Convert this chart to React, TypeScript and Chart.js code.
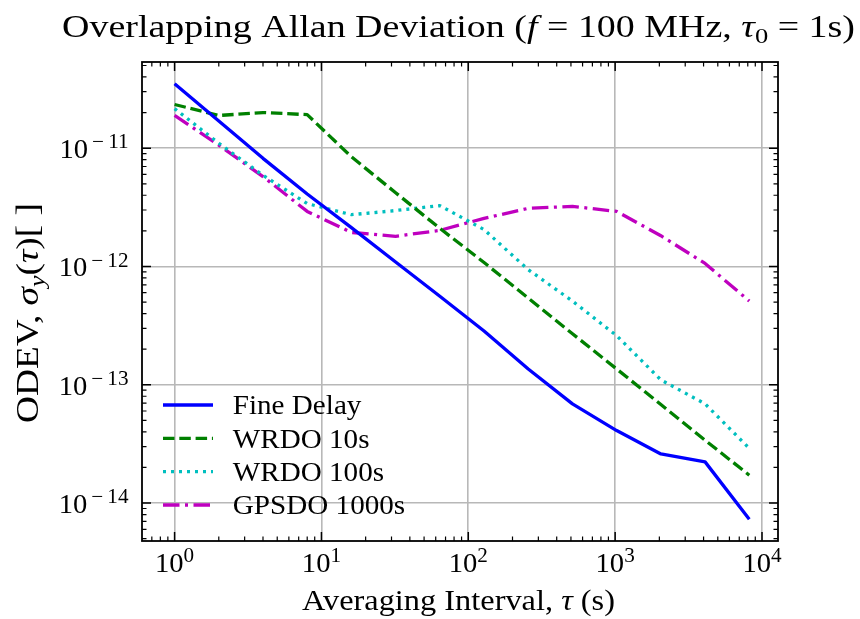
import React, { useEffect, useRef } from 'react';
import { Chart, registerables } from 'chart.js';

Chart.register(...registerables);

// ---- data ----
const TAU = [1, 2, 4, 8, 16, 32, 64, 128, 256, 512, 1024, 2048, 4096, 8192];
const FINE_DELAY = [3.5e-11, 1.7e-11, 8.2e-12, 4.1e-12, 2.13e-12, 1.09e-12, 5.6e-13, 2.85e-13, 1.36e-13, 6.9e-14, 4.1e-14, 2.6e-14, 2.23e-14, 7.3e-15];
const WRDO_10S = [2.34e-11, 1.89e-11, 2.0e-11, 1.92e-11, 8.45e-12, 4.2e-12, 2.1e-12, 1.08e-12, 5.4e-13, 2.7e-13, 1.36e-13, 6.8e-14, 3.4e-14, 1.72e-14];
const WRDO_100S = [2.16e-11, 1.1e-11, 5.9e-12, 3.4e-12, 2.74e-12, 2.97e-12, 3.27e-12, 2.05e-12, 9.4e-13, 5.1e-13, 2.6e-13, 1.1e-13, 6.9e-14, 2.9e-14];
const GPSDO_1000S = [1.89e-11, 1.06e-11, 5.75e-12, 2.92e-12, 1.94e-12, 1.8e-12, 2.02e-12, 2.55e-12, 3.1e-12, 3.22e-12, 2.92e-12, 1.82e-12, 1.06e-12, 5.1e-13];
const SERIES_NAMES = ['Fine Delay', 'WRDO 10s', 'WRDO 100s', 'GPSDO 1000s'];

const X_DECADES = [-1, 0, 1, 2, 3, 4];
const Y_DECADES = [-15, -14, -13, -12, -11];
const X_LABEL_EXPONENTS = [0, 1, 2, 3, 4];
const Y_LABEL_EXPONENTS = [-14, -13, -12, -11];
const X_MIN = 0.637;
const X_MAX = 12850;
const Y_MIN = 4.78e-15;
const Y_MAX = 5.35e-11;

const buildTicks = (decades: number[], min: number, max: number) => {
  const out: number[] = [];
  decades.forEach((d) => {
    for (let m = 1; m <= 9; m++) {
      const v = m * Math.pow(10, d);
      if (v >= min * 0.9999 && v <= max * 1.0001) out.push(v);
    }
  });
  return out;
};
const X_TICKS = buildTicks(X_DECADES, X_MIN, X_MAX);
const Y_TICKS = buildTicks(Y_DECADES, Y_MIN, Y_MAX);

const isDecade = (v?: number) => {
  if (!v || v <= 0) return false;
  const l = Math.log10(v);
  return Math.abs(l - Math.round(l)) < 1e-9;
};

// ---- text helpers ----
type Seg = { t: string; it?: boolean; sub?: boolean; sup?: boolean; adv?: number; scale?: number };
const FONT = '"Liberation Serif", "Times New Roman", serif';
const segSize = (s: Seg, size: number) => (s.sub || s.sup ? size * (s.scale ?? 0.7) : size);
const fontFor = (s: Seg, size: number) => `${s.it ? 'italic ' : ''}${segSize(s, size)}px ${FONT}`;

function drawRich(
  ctx: CanvasRenderingContext2D,
  segs: Seg[],
  x: number,
  y: number,
  size: number,
  align: 'left' | 'center' | 'right',
  opts: { target?: number; sx?: number }
) {
  const widths = segs.map((s) => {
    ctx.font = fontFor(s, size);
    const w = ctx.measureText(s.t).width;
    return s.adv ? Math.max(w, s.adv * segSize(s, size)) : w;
  });
  const W = widths.reduce((a, b) => a + b, 0);
  const sx = opts.target ? opts.target / W : opts.sx ?? 1;
  const total = W * sx;
  const x0 = align === 'left' ? x : align === 'center' ? x - total / 2 : x - total;
  ctx.save();
  ctx.translate(x0, y);
  ctx.scale(sx, 1);
  ctx.textAlign = 'left';
  ctx.textBaseline = 'alphabetic';
  ctx.fillStyle = '#000';
  let cx = 0;
  segs.forEach((s, i) => {
    ctx.font = fontFor(s, size);
    const w = ctx.measureText(s.t).width;
    const dy = s.sub ? size * 0.2 : s.sup ? -size * 0.36 : 0;
    ctx.fillText(s.t, cx + (widths[i] - w) / 2, dy);
    cx += widths[i];
  });
  ctx.restore();
}

const expSegs = (n: number): Seg[] => {
  if (n < 0)
    return [
      { t: '10' },
      { t: '\u2212', sup: true, adv: 0.95, scale: 0.74 },
      { t: String(-n), sup: true, scale: 0.74 },
    ];
  return [{ t: '10' }, { t: String(n), sup: true, scale: 0.74 }];
};

const LW = 3.3;

const decorPlugin = {
  id: 'decor',
  afterDraw(chart: any) {
    const ctx: CanvasRenderingContext2D = chart.ctx;
    const a = chart.chartArea;
    const xs = chart.scales.x;
    const ys = chart.scales.y;

    // frame
    ctx.save();
    ctx.strokeStyle = '#000';
    ctx.lineWidth = 1.8;
    ctx.strokeRect(a.left, a.top, a.right - a.left, a.bottom - a.top);

    // inward ticks on all sides
    xs.ticks.forEach((t: any) => {
      const px = xs.getPixelForValue(t.value);
      if (px < a.left - 0.5 || px > a.right + 0.5) return;
      const maj = isDecade(t.value);
      const len = maj ? 9 : 4.5;
      ctx.lineWidth = maj ? 1.5 : 1.2;
      ctx.beginPath();
      ctx.moveTo(px, a.bottom);
      ctx.lineTo(px, a.bottom - len);
      ctx.moveTo(px, a.top);
      ctx.lineTo(px, a.top + len);
      ctx.stroke();
    });
    ys.ticks.forEach((t: any) => {
      const py = ys.getPixelForValue(t.value);
      if (py < a.top - 0.5 || py > a.bottom + 0.5) return;
      const maj = isDecade(t.value);
      const len = maj ? 9 : 4.5;
      ctx.lineWidth = maj ? 1.5 : 1.2;
      ctx.beginPath();
      ctx.moveTo(a.left, py);
      ctx.lineTo(a.left + len, py);
      ctx.moveTo(a.right, py);
      ctx.lineTo(a.right - len, py);
      ctx.stroke();
    });
    ctx.restore();

    // tick labels
    X_LABEL_EXPONENTS.forEach((n) => {
      const px = xs.getPixelForValue(Math.pow(10, n));
      drawRich(ctx, expSegs(n), px, a.bottom + 31, 27.5, 'center', { sx: 1.04 });
    });
    Y_LABEL_EXPONENTS.forEach((n) => {
      const py = ys.getPixelForValue(Math.pow(10, n));
      drawRich(ctx, expSegs(n), a.left - 13.5, py + 10, 27.5, 'right', { sx: 1.04 });
    });

    // title
    drawRich(
      ctx,
      [
        { t: 'Overlapping Allan Deviation (' },
        { t: 'f', it: true },
        { t: ' = 100 MHz, ' },
        { t: '\u03c4', it: true },
        { t: '0', sub: true },
        { t: ' = 1s)' },
      ],
      (a.left + a.right) / 2 - 1.5,
      37,
      31,
      'center',
      { target: 793 }
    );

    // x title
    drawRich(
      ctx,
      [{ t: 'Averaging Interval, ' }, { t: '\u03c4', it: true }, { t: ' (s)' }],
      (a.left + a.right) / 2 - 1.5,
      610,
      29,
      'center',
      { target: 313 }
    );

    // y title (rotated)
    ctx.save();
    ctx.translate(38, 313);
    ctx.rotate(-Math.PI / 2);
    drawRich(
      ctx,
      [
        { t: 'ODEV, ' },
        { t: '\u03c3', it: true },
        { t: 'y', it: true, sub: true },
        { t: '(' },
        { t: '\u03c4', it: true },
        { t: ')[ ]' },
      ],
      0,
      0,
      31,
      'center',
      { target: 220 }
    );
    ctx.restore();

    // legend
    const rows = [405, 438.3, 471.7, 505];
    chart.data.datasets.forEach((ds: any, i: number) => {
      const y = rows[i];
      ctx.save();
      ctx.strokeStyle = ds.borderColor;
      ctx.lineWidth = LW;
      ctx.setLineDash(ds.borderDash || []);
      ctx.lineCap = 'butt';
      ctx.beginPath();
      ctx.moveTo(163, y);
      ctx.lineTo(213, y);
      ctx.stroke();
      ctx.restore();
      drawRich(ctx, [{ t: ds.label }], 232.7, y + 9.3, 27.5, 'left', { sx: 1.06 });
    });
  },
};

export default function App() {
  const ref = useRef<HTMLCanvasElement | null>(null);

  useEffect(() => {
    if (!ref.current) return;
    const mk = (vals: number[]) => TAU.map((t, i) => ({ x: t, y: vals[i] }));
    const GRID = '#b8b8b8';
    const gridColor = (c: any) => (isDecade(c.tick?.value) ? GRID : 'rgba(0,0,0,0)');
    const chart = new Chart(ref.current, {
      type: 'line',
      data: {
        datasets: [
          { label: SERIES_NAMES[0], data: mk(FINE_DELAY), borderColor: '#0000ff', borderDash: [] },
          { label: SERIES_NAMES[1], data: mk(WRDO_10S), borderColor: '#008000', borderDash: [11.5, 4.8] },
          { label: SERIES_NAMES[2], data: mk(WRDO_100S), borderColor: '#00bfbf', borderDash: [3, 5.0] },
          { label: SERIES_NAMES[3], data: mk(GPSDO_1000S), borderColor: '#bf00bf', borderDash: [16.5, 5.5, 3, 5.5] },
        ].map((d) => ({
          ...d,
          borderWidth: LW,
          pointRadius: 0,
          pointHoverRadius: 0,
          fill: false,
          tension: 0,
          borderCapStyle: 'butt' as const,
          borderJoinStyle: 'round' as const,
        })),
      },
      options: {
        animation: false,
        responsive: false,
        devicePixelRatio: 1,
        events: [],
        elements: { line: { borderWidth: LW }, point: { radius: 0 } },
        layout: { padding: { left: 0, right: 82, top: 62, bottom: 0 } },
        plugins: {
          legend: { display: false },
          title: { display: false },
          tooltip: { enabled: false },
        },
        scales: {
          x: {
            type: 'logarithmic',
            min: X_MIN,
            max: X_MAX,
            afterBuildTicks: (s: any) => {
              s.ticks = X_TICKS.map((v) => ({ value: v }));
            },
            afterFit: (s: any) => {
              s.height = 78;
            },
            ticks: { display: false },
            grid: { color: gridColor, lineWidth: 1.6, drawTicks: false },
            border: { display: false },
          },
          y: {
            type: 'logarithmic',
            min: Y_MIN,
            max: Y_MAX,
            afterBuildTicks: (s: any) => {
              s.ticks = Y_TICKS.map((v) => ({ value: v }));
            },
            afterFit: (s: any) => {
              s.width = 142;
            },
            ticks: { display: false },
            grid: { color: gridColor, lineWidth: 1.6, drawTicks: false },
            border: { display: false },
          },
        },
      } as any,
      plugins: [decorPlugin],
    });
    return () => chart.destroy();
  }, []);

  return (
    <div style={{ position: 'fixed', left: 0, top: 0, width: 860, height: 619, background: '#fff' }}>
      <canvas ref={ref} width={860} height={619} style={{ width: 860, height: 619, display: 'block' }} />
    </div>
  );
}
